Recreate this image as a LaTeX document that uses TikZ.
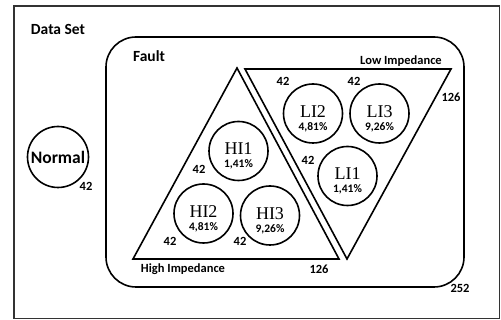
\documentclass[tikz,border=0pt]{standalone}
\usepackage{fontspec}
\setmainfont{Carlito}
\newfontfamily\cirserif{Liberation Serif}
\begin{document}
\begin{tikzpicture}[x=1pt,y=-1pt,
  lbl/.style={font=\fontsize{12.5}{12.5}\selectfont\bfseries, inner sep=0pt},
  ttl/.style={font=\fontsize{15.5}{15.5}\selectfont\bfseries, inner sep=0pt},
  circ/.style={draw, circle, line width=1.6pt, minimum size=59pt, inner sep=0pt},
  ctext/.style={align=center, inner sep=0pt, yshift=-5pt},
  ln/.style={line width=1.6pt, line join=miter}]
\useasboundingbox (0,0) rectangle (501,320);
% outer data set box
\draw[line width=1.3pt, black!80] (14,6) rectangle (499.5,318.5);
\node[ttl] (dataset) at (58,29) {Data Set};
% fault box
\draw[ln, rounded corners=30pt] (106,37) rectangle (464,287);
\node[ttl] (fault) at (149,56) {Fault};
% normal
\node[circ, minimum size=61pt] (normal) at (58,157) {};
\node[font=\fontsize{17.5}{17.5}\selectfont\bfseries, inner sep=0pt] (normaltxt) at (normal) {Normal};
\node[lbl] (n42) at (86,186) {42};
% high impedance triangle
\draw[ln] (237,68) -- (339,259) -- (133,259) -- cycle;
\node[lbl] (hitxt) at (183,269) {High Impedance};
\node[lbl] (hi126) at (319,269) {126};
% low impedance triangle
\draw[ln] (245,69) -- (451,69) -- (347,259) -- cycle;
\node[lbl] (litxt) at (401,61) {Low Impedance};
\node[lbl] (li126) at (451,97) {126};
% fault total
\node[lbl] (f252) at (460,288) {252};
% HI circles
\node[circ] (hi1) at (238.5,151) {};
\node[circ] (hi2) at (203.5,213.5) {};
\node[circ] (hi3) at (270,215.5) {};
\node[ctext] (hi1t) at (hi1) {{\cirserif\fontsize{18}{18}\selectfont HI1}\\[1pt]{\fontsize{11.5}{11.5}\selectfont\bfseries 1,41\%}};
\node[ctext] (hi2t) at (hi2) {{\cirserif\fontsize{18}{18}\selectfont HI2}\\[1pt]{\fontsize{11.5}{11.5}\selectfont\bfseries 4,81\%}};
\node[ctext] (hi3t) at (hi3) {{\cirserif\fontsize{18}{18}\selectfont HI3}\\[1pt]{\fontsize{11.5}{11.5}\selectfont\bfseries 9,26\%}};
\node[lbl] (hi1n) at (199,169) {42};
\node[lbl] (hi2n) at (170,241) {42};
\node[lbl] (hi3n) at (240,241) {42};
% LI circles
\node[circ] (li2) at (313,113.5) {};
\node[circ] (li3) at (379.5,113.5) {};
\node[circ] (li1) at (347.5,176) {};
\node[ctext] (li2t) at (li2) {{\cirserif\fontsize{18}{18}\selectfont LI2}\\[1pt]{\fontsize{11.5}{11.5}\selectfont\bfseries 4,81\%}};
\node[ctext] (li3t) at (li3) {{\cirserif\fontsize{18}{18}\selectfont LI3}\\[1pt]{\fontsize{11.5}{11.5}\selectfont\bfseries 9,26\%}};
\node[ctext] (li1t) at (li1) {{\cirserif\fontsize{18}{18}\selectfont LI1}\\[1pt]{\fontsize{11.5}{11.5}\selectfont\bfseries 1,41\%}};
\node[lbl] (li2n) at (283,81) {42};
\node[lbl] (li3n) at (354,81) {42};
\node[lbl] (li1n) at (308,160) {42};
\end{tikzpicture}
\end{document}
